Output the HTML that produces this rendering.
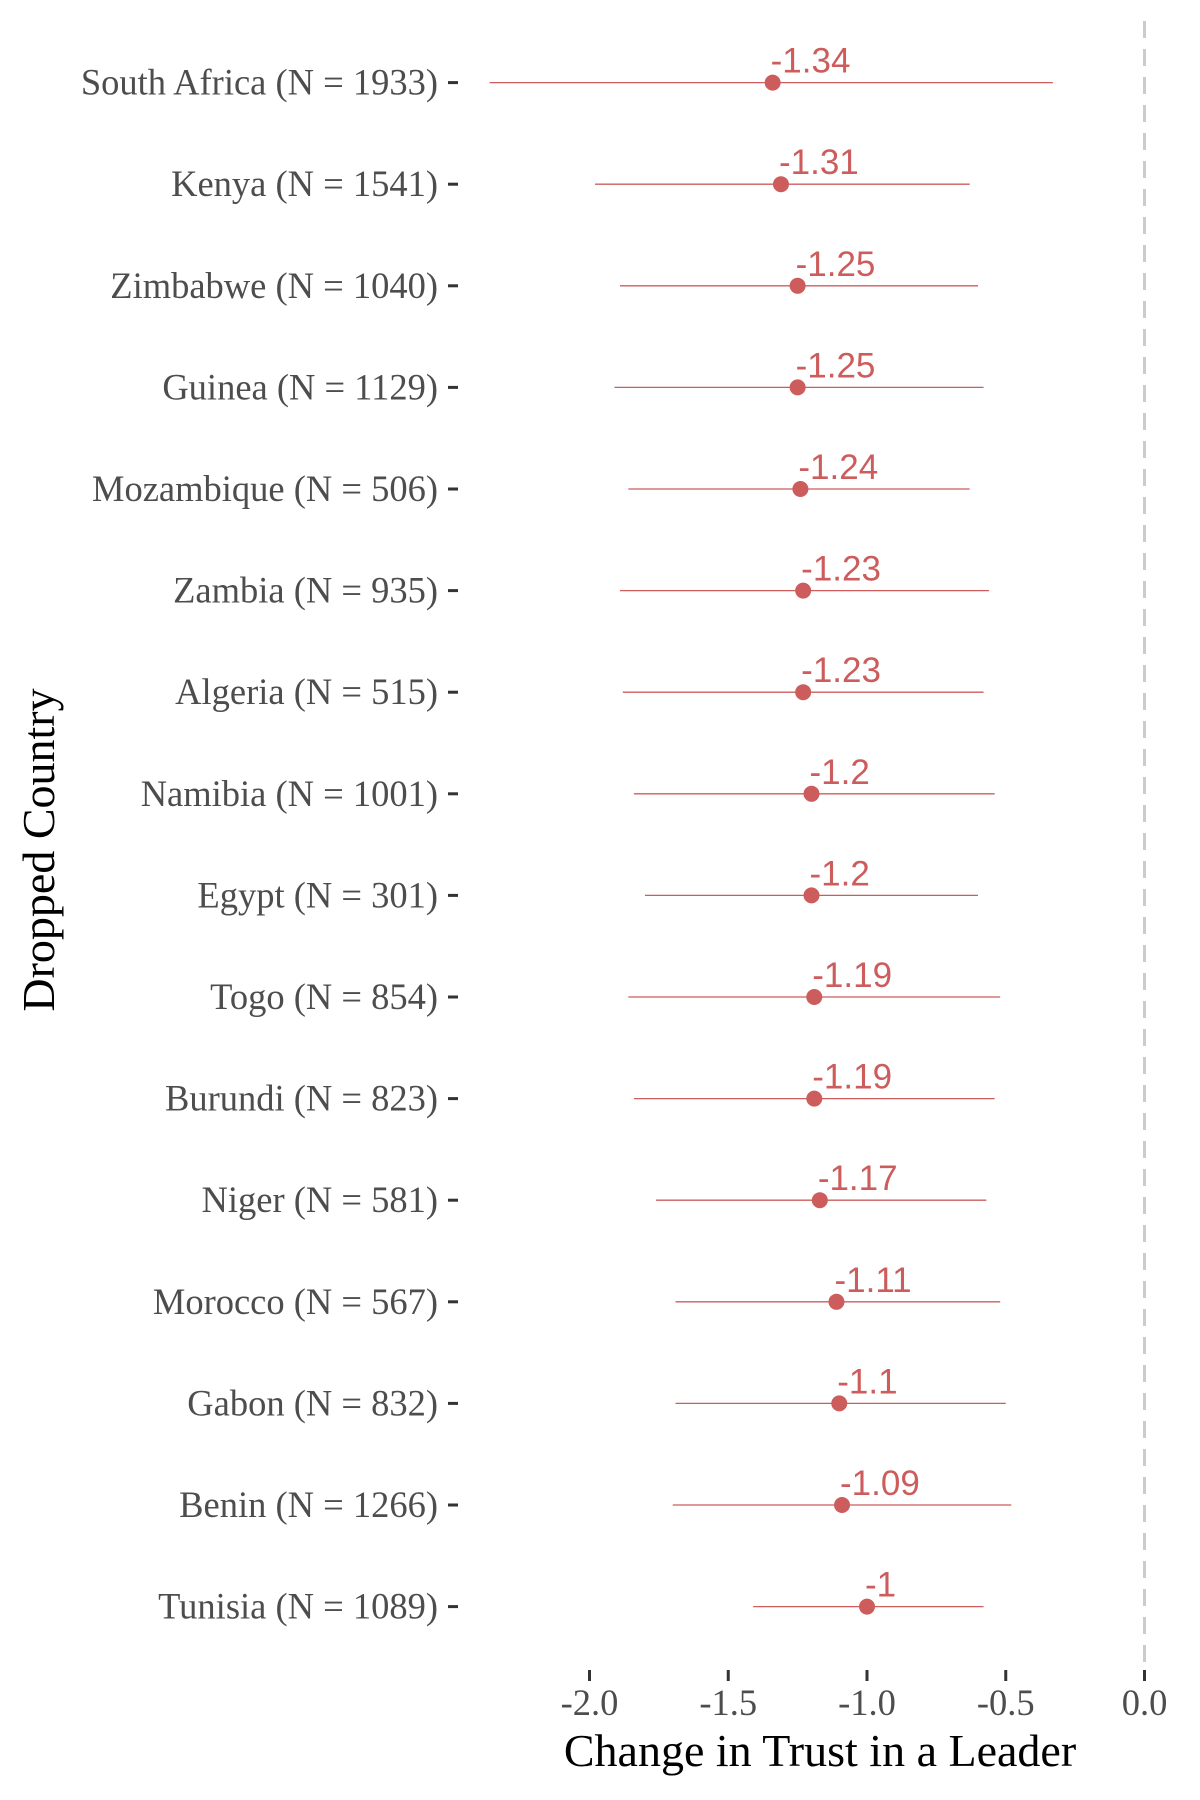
<!DOCTYPE html>
<html><head><meta charset="utf-8"><style>
html,body{margin:0;padding:0;background:#fff;}
svg{display:block;}
</style></head><body>
<svg id="chart" width="1200" height="1800" xmlns="http://www.w3.org/2000/svg">
<g id="plot"></g>
<text x="820" y="1766" text-anchor="middle" font-family="Liberation Serif, serif" font-size="46" fill="#000">Change in Trust in a Leader</text>
<text transform="translate(54,850) rotate(-90)" text-anchor="middle" font-family="Liberation Serif, serif" font-size="46" fill="#000">Dropped Country</text>
</svg>
<script>
const countries = ["South Africa (N = 1933)","Kenya (N = 1541)","Zimbabwe (N = 1040)","Guinea (N = 1129)","Mozambique (N = 506)","Zambia (N = 935)","Algeria (N = 515)","Namibia (N = 1001)","Egypt (N = 301)","Togo (N = 854)","Burundi (N = 823)","Niger (N = 581)","Morocco (N = 567)","Gabon (N = 832)","Benin (N = 1266)","Tunisia (N = 1089)"];
const estimates = [-1.34,-1.31,-1.25,-1.25,-1.24,-1.23,-1.23,-1.2,-1.2,-1.19,-1.19,-1.17,-1.11,-1.1,-1.09,-1];
const lower = [-2.36,-1.98,-1.89,-1.91,-1.86,-1.89,-1.88,-1.84,-1.80,-1.86,-1.84,-1.76,-1.69,-1.69,-1.70,-1.41];
const upper = [-0.33,-0.63,-0.60,-0.58,-0.63,-0.56,-0.58,-0.54,-0.60,-0.52,-0.54,-0.57,-0.52,-0.50,-0.48,-0.58];
const xTicks = [-2.0,-1.5,-1.0,-0.5,0.0];
const xTickLabels = ["-2.0","-1.5","-1.0","-0.5","0.0"];

const NS="http://www.w3.org/2000/svg";
const g=document.getElementById('plot');
function xs(v){return 1144.5+v*277.5;}
function ys(i){return 82.6+i*101.6;}
function mk(tag,attrs){const e=document.createElementNS(NS,tag);for(const k in attrs)e.setAttribute(k,attrs[k]);g.appendChild(e);return e;}

const ref=mk('line',{x1:xs(0),x2:xs(0),y1:21,y2:1665,stroke:'#cccccc','stroke-width':3,'stroke-dasharray':'17,11'});



xTicks.forEach((t,i)=>{
  const tk=mk('line',{x1:xs(t),x2:xs(t),y1:1670,y2:1681,stroke:'#333','stroke-width':3});
  
  
  const tl=mk('text',{x:xs(t),y:1715,'text-anchor':'middle','font-family':'Liberation Serif, serif','font-size':36.5,fill:'#4d4d4d'});
  tl.textContent=xTickLabels[i];
  
  
});

countries.forEach((c,i)=>{
  const y=ys(i);
  const lab=mk('text',{x:438,y:y+12,'text-anchor':'end','font-family':'Liberation Serif, serif','font-size':36.5,fill:'#4d4d4d'});
  lab.textContent=c;
  
  
  const tk=mk('line',{x1:448,x2:458,y1:y,y2:y,stroke:'#333','stroke-width':3});
  
  
  const ci=mk('line',{x1:xs(lower[i]),x2:xs(upper[i]),y1:y,y2:y,stroke:'#cd5c5c','stroke-width':1.3});
  
  
  const pt=mk('circle',{cx:xs(estimates[i]),cy:y,r:8,fill:'#cd5c5c'});
  
  
  const vl=mk('text',{x:xs(estimates[i])-2,y:y-10,'font-family':'Liberation Sans, sans-serif','font-size':35,fill:'#cd5c5c'});
  vl.textContent=String(estimates[i]);
  
  
});
</script>
</body></html>
